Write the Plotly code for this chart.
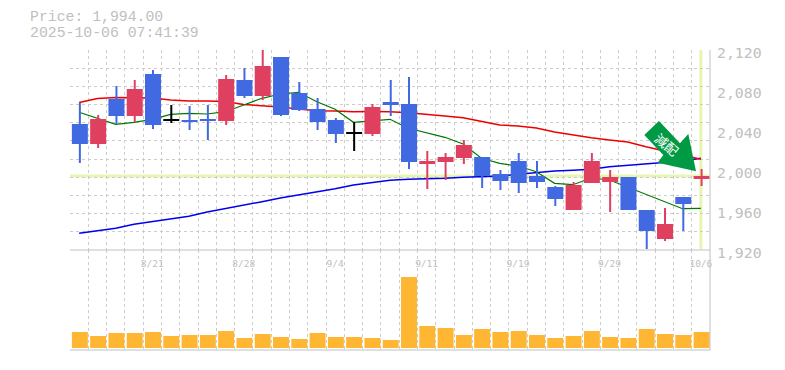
import plotly.graph_objects as go

date_labels = ["8/21", "8/28", "9/4", "9/11", "9/19", "9/29", "10/6"]
date_label_pos = [4, 9, 14, 19, 24, 29, 34]
price_ticks = [1920, 1960, 2000, 2040, 2080, 2120]
price_tick_text = ["1,920", "1,960", "2,000", "2,040", "2,080", "2,120"]
last_price = 1994
opens = [2046, 2026, 2071, 2054, 2096, 2050, 2050, 2051, 2049, 2090, 2074, 2113, 2077, 2061, 2050, 2037, 2036, 2068,
         2066, 2006, 2008, 2012, 2013, 1996, 2009, 1994, 1983, 1960, 1987, 1988, 1993, 1960, 1931, 1973, 1991]
closes = [2026, 2051, 2054, 2081, 2045, 2050, 2048, 2049, 2091, 2074, 2104, 2055, 2060, 2048, 2036, 2037, 2063, 2065,
          2008, 2009, 2013, 2025, 1994, 1989, 1987, 1988, 1971, 1985, 2009, 1993, 1960, 1939, 1946, 1966, 1994]
highs = [2067, 2055, 2084, 2090, 2100, 2065, 2064, 2065, 2095, 2102, 2120, 2113, 2088, 2072, 2052, 2048, 2066, 2090,
         2093, 2019, 2017, 2030, 2013, 2000, 2017, 2009, 1984, 1988, 2017, 2000, 1993, 1960, 1962, 1973, 2001]
lows = [2007, 2022, 2046, 2048, 2041, 2047, 2040, 2030, 2045, 2072, 2070, 2054, 2059, 2040, 2027, 2019, 2034, 2054,
        2001, 1981, 1990, 2006, 1982, 1980, 1977, 1982, 1964, 1960, 1987, 1958, 1960, 1921, 1929, 1939, 1984]
ma_red = [2067.5, 2071.5, 2072.5, 2072, 2072, 2070, 2069, 2069, 2068.5, 2065.5, 2064.5, 2063, 2061, 2059.3, 2059,
          2058.3, 2058.5, 2058.3, 2057.3, 2056, 2054, 2052.3, 2048.3, 2045, 2044, 2042, 2038, 2035, 2032.3, 2030,
          2028, 2023.3, 2019, 2015, 2010.7]
ma_blue = [1936.7, 1939, 1941.7, 1945.7, 1948.3, 1951, 1953.7, 1958, 1961.3, 1964.3, 1968.3, 1972, 1975, 1977.7,
           1981.3, 1985, 1987.7, 1989.7, 1990.7, 1991, 1991.7, 1992.7, 1993.3, 1994, 1995.7, 1997.3, 1999, 1999.7,
           2000.7, 2003.3, 2004.7, 2006, 2007, 2009, 2011.7]
ma_green = [2057.7, 2051.7, 2045.7, 2047.7, 2050.7, 2055.7, 2056.7, 2056, 2058.3, 2065, 2071.7, 2076, 2077.7, 2068.3,
            2060.7, 2047.7, 2049, 2050.7, 2041.7, 2037.3, 2032.7, 2026, 2011.7, 2006.7, 2004, 1998.3, 1986.7, 1985.3,
            1992, 1990, 1982.7, 1975.7, 1968.3, 1961.3, 1961.7]
volumes = [16, 12, 15, 15, 16, 12, 13, 13, 17, 10, 14, 11, 9, 15, 11, 11, 10, 8,
           71, 22, 20, 13, 19, 16, 17, 13, 10, 12, 17, 11, 10, 19, 14, 13, 16]

BLUE, RED, BLACK = "#4169E1", "#E04060", "#000000"
GRID, AXIS, LABEL = "#CCCCCC", "#C0C0C0", "#C0C0C0"
MARK = "#E6F6AE"
ARROW = "#009944"
MONO = "DejaVu Sans Mono, Liberation Mono, monospace"
xs = list(range(len(opens)))
colors = [BLACK if o == c else (RED if c > o else BLUE) for o, c in zip(opens, closes)]
body_base = [min(o, c) if o != c else o - 1 for o, c in zip(opens, closes)]
body_h = [abs(o - c) if o != c else 2 for o, c in zip(opens, closes)]

L, R, T, B, W, H = 70, 710, 50, 350, 785, 370
px = lambda x: (x - L) / (R - L)
py = lambda y: (B - y) / (B - T)
CELL = (R - L) / 35
BODY = 16 / CELL
WICK = 2 / CELL
NUDGE = 0.04
x_grid = [i - 0.5 for i in range(35)]
y_grid = [1920 + k * 200 / 11 for k in range(1, 12)]

fig = go.Figure()
for vals, col, lw in [(ma_blue, "#0000EE", 1.5), (ma_red, "#EE0000", 1.5), (ma_green, "#007700", 1.2)]:
    fig.add_trace(go.Scatter(x=xs, y=vals, mode="lines", line=dict(color=col, width=lw), zorder=0,
                             hoverinfo="skip", showlegend=False))
fig.add_trace(go.Bar(x=xs, y=[h - l for h, l in zip(highs, lows)], base=lows, width=WICK, offset=NUDGE - WICK / 2,
                     marker=dict(color=colors, line=dict(width=0)), zorder=1, showlegend=False))
fig.add_trace(go.Bar(x=xs, y=body_h, base=body_base, width=BODY, offset=NUDGE - BODY / 2,
                     marker=dict(color=colors, line=dict(width=0)), zorder=2, showlegend=False))
fig.add_trace(go.Bar(x=xs, y=volumes, width=BODY, offset=NUDGE - BODY / 2, xaxis="x2", yaxis="y2",
                     marker=dict(color="#FFB733", line=dict(width=0)), showlegend=False))
# carriers for the overlaid label axes
fig.add_trace(go.Scatter(x=date_label_pos, y=[None] * len(date_label_pos), xaxis="x3", yaxis="y",
                         hoverinfo="skip", showlegend=False))
fig.add_trace(go.Scatter(x=[None] * len(price_ticks), y=price_ticks, xaxis="x", yaxis="y3",
                         hoverinfo="skip", showlegend=False))

grid_x = dict(showgrid=True, gridcolor=GRID, griddash="3px,3px", gridwidth=1, tickmode="array", tickvals=x_grid,
              showticklabels=False, ticks="", zeroline=False, showline=False, range=[-0.5, 34.5], automargin=False)
hidden = dict(showgrid=False, zeroline=False, showline=False, ticks="", automargin=False)
solid = dict(color=AXIS, width=1)
fig.update_layout(
    width=W, height=H, autosize=False, paper_bgcolor="white", plot_bgcolor="white",
    margin=dict(l=L, r=W - R, t=T, b=H - B, pad=0, autoexpand=False), barmode="overlay", showlegend=False,
    font=dict(family=MONO, color=LABEL),
    xaxis=dict(domain=[0, 1], anchor="y", **grid_x),
    xaxis2=dict(domain=[0, 1], anchor="y2", **grid_x),
    xaxis3=dict(overlaying="x", anchor="y", side="bottom", range=[-0.5, 34.5], tickmode="array",
                tickvals=date_label_pos, ticktext=date_labels, tickfont=dict(size=9.5, color=LABEL, family=MONO),
                ticklabelstandoff=6, **hidden),
    yaxis=dict(domain=[1 / 3, 1], range=[1920, 2120], anchor="x", side="right", showgrid=True, gridcolor=GRID,
               griddash="3px,3px", gridwidth=1, tickmode="array", tickvals=y_grid, showticklabels=False, ticks="",
               zeroline=False, showline=False, automargin=False),
    yaxis2=dict(domain=[0, 1 / 3], range=[-2, 98], anchor="x2", side="right", showticklabels=False, **hidden),
    yaxis3=dict(overlaying="y", anchor="x", side="right", range=[1920, 2120], tickmode="array", tickvals=price_ticks,
                ticktext=price_tick_text, tickfont=dict(size=14.8, color=LABEL, family=MONO), ticklabelstandoff=6,
                ticklabelshift=3, **hidden),
    shapes=[
        dict(type="line", xref="x", yref="y", x0=-0.5, x1=34.5, y0=last_price, y1=last_price, layer="below",
             line=dict(color=MARK, width=3)),
        dict(type="line", xref="x", yref="y", x0=34, x1=34, y0=1921, y1=2120, layer="below",
             line=dict(color=MARK, width=3)),
        dict(type="line", xref="paper", yref="paper", x0=0, x1=1, y0=py(250), y1=py(250), layer="above", line=solid),
        dict(type="line", xref="paper", yref="paper", x0=0, x1=1, y0=py(350), y1=py(350), layer="above", line=solid),
        dict(type="line", xref="paper", yref="paper", x0=1, x1=1, y0=0, y1=1, layer="above", line=solid),
        dict(type="path", xref="paper", yref="paper", layer="above", fillcolor=ARROW, line=dict(width=0),
             path="M " + " L ".join(f"{px(a):.5f},{py(b):.5f}" for a, b in
                                    [(659, 121), (644.3, 135), (663.3, 155), (657.7, 162.7), (696, 171.3),
                                     (688.3, 134), (680, 143.3)]) + " Z"),
    ],
    annotations=[
        dict(xref="paper", yref="paper", x=px(28), y=py(17.5), xanchor="left", yanchor="middle", showarrow=False,
             text="Price: 1,994.00", font=dict(size=14.8, color=LABEL, family="Liberation Mono, monospace")),
        dict(xref="paper", yref="paper", x=px(28), y=py(33), xanchor="left", yanchor="middle", showarrow=False,
             text="2025-10-06 07:41:39", font=dict(size=14.8, color=LABEL, family="Liberation Mono, monospace")),
        dict(xref="paper", yref="paper", x=px(667), y=py(144), xanchor="center", yanchor="middle", showarrow=False,
             text="減配", textangle=40, font=dict(size=13, color="white", family="Noto Sans CJK JP")),
    ],
)
fig.write_html("out.html", config=dict(displayModeBar=False), post_script="document.body.style.margin='0';")
